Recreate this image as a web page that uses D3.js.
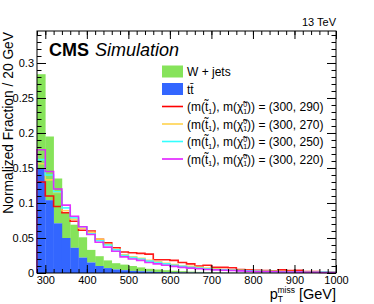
<!DOCTYPE html>
<html>
<head>
<meta charset="utf-8">
<script src="https://cdnjs.cloudflare.com/ajax/libs/d3/7.8.5/d3.min.js"></script>
<style>
  body { margin: 0; background: #fff; }
  svg { display: block; font-family: "Liberation Sans", Arial, Helvetica, sans-serif; }
  .axis path { display: none; }
  .axis line { stroke: #000; }
</style>
</head>
<body>
<svg id="chart" width="374" height="304"></svg>
<script>
// bin lower edges, 20 GeV wide
const binLow = d3.range(280, 1000, 20);

// stacked backgrounds (normalized)
const ttbar = [0.150, 0.104, 0.071, 0.050, 0.036, 0.022, 0.015, 0.010, 0.007, 0.005, 0.004, 0.003, 0.0025, 0.002, 0.0015, 0.0012, 0.001, 0.0008, 0.0006, 0.0005, 0.0004, 0.0003, 0.0003, 0.0002, 0.0002, 0.0002, 0.0001, 0.0001, 0.0001, 0.0001, 0.0001, 0.0001, 0, 0, 0, 0];
const wjets = [0.134, 0.091, 0.064, 0.036, 0.033, 0.029, 0.018, 0.014, 0.011, 0.009, 0.008, 0.007, 0.0055, 0.004, 0.0035, 0.0028, 0.0022, 0.0018, 0.0014, 0.0011, 0.0009, 0.0007, 0.0005, 0.0005, 0.0004, 0.0003, 0.0003, 0.0003, 0.0002, 0.0002, 0.0001, 0.0001, 0.0002, 0.0001, 0.0001, 0.0001];

// signal points
const sig290 = [0.130, 0.110, 0.095, 0.086, 0.074, 0.061, 0.060, 0.048, 0.043, 0.036, 0.030, 0.029, 0.028, 0.027, 0.019, 0.019, 0.018, 0.015, 0.013, 0.010, 0.011, 0.008, 0.008, 0.0075, 0.005, 0.0045, 0.004, 0.0035, 0.003, 0.0045, 0.0035, 0.004, 0.002, 0.002, 0.001, 0.001];
const sig270 = [0.156, 0.133, 0.115, 0.089, 0.077, 0.064, 0.058, 0.048, 0.041, 0.034, 0.026, 0.023, 0.021, 0.018, 0.016, 0.014, 0.012, 0.010, 0.0095, 0.008, 0.007, 0.006, 0.005, 0.0045, 0.004, 0.0035, 0.003, 0.0028, 0.0025, 0.002, 0.002, 0.0018, 0.0015, 0.0012, 0.001, 0.001];
const sig250 = [0.162, 0.140, 0.116, 0.093, 0.079, 0.066, 0.056, 0.046, 0.040, 0.033, 0.025, 0.022, 0.020, 0.017, 0.015, 0.013, 0.011, 0.0095, 0.008, 0.007, 0.006, 0.005, 0.0045, 0.004, 0.0035, 0.003, 0.0025, 0.0022, 0.002, 0.0018, 0.0015, 0.0012, 0.001, 0.001, 0.0015, 0.001];
const sig220 = [0.176, 0.145, 0.120, 0.097, 0.081, 0.066, 0.055, 0.044, 0.037, 0.031, 0.023, 0.020, 0.018, 0.015, 0.013, 0.011, 0.0095, 0.008, 0.007, 0.006, 0.005, 0.0045, 0.004, 0.0035, 0.003, 0.0025, 0.002, 0.002, 0.0018, 0.0015, 0.0015, 0.0012, 0.001, 0.001, 0.0008, 0.0008];

const signals = [
  { mass: "290", values: sig290, color: "#ff0000" },
  { mass: "270", values: sig270, color: "#ffd24d" },
  { mass: "250", values: sig250, color: "#33ffff" },
  { mass: "220", values: sig220, color: "#e21cff" },
];

const xTicks = [300, 400, 500, 600, 700, 800, 900, 1000];
const yTicks = [0, 0.05, 0.1, 0.15, 0.2, 0.25, 0.3];

const svg = d3.select("#chart");
const pLeft = 37, pRight = 336, pTop = 31, pBottom = 273;

const x = d3.scaleLinear().domain([280, 1000]).range([pLeft, pRight]);
const y = d3.scaleLinear().domain([0, 0.3457]).range([pBottom, pTop]);

const binW = 20;

// stacked histograms: ttbar at bottom, W+jets on top
const stack = binLow.map((lo, i) => ({ lo: lo, tt: ttbar[i], tot: ttbar[i] + wjets[i] }));

const hist = svg.append("g");
hist
  .selectAll("rect.wj")
  .data(stack)
  .enter()
  .append("rect")
  .attr("x", (d) => x(d.lo))
  .attr("width", (d) => x(d.lo + binW) - x(d.lo) + 0.3)
  .attr("y", (d) => y(d.tot))
  .attr("height", (d) => y(d.tt) - y(d.tot))
  .attr("fill", "#86e35a");
hist
  .selectAll("rect.tt")
  .data(stack)
  .enter()
  .append("rect")
  .attr("x", (d) => x(d.lo))
  .attr("width", (d) => x(d.lo + binW) - x(d.lo) + 0.3)
  .attr("y", (d) => y(d.tt))
  .attr("height", (d) => y(0) - y(d.tt))
  .attr("fill", "#3366ff");

// step outlines for the signals
function stepPath(values) {
  const pts = [[x(280), y(0)]];
  values.forEach((v, i) => {
    pts.push([x(binLow[i]), y(v)]);
    pts.push([x(binLow[i] + binW), y(v)]);
  });
  pts.push([x(1000), y(0)]);
  return d3.line()(pts);
}

svg
  .append("g")
  .selectAll("path")
  .data(signals)
  .enter()
  .append("path")
  .attr("d", (d) => stepPath(d.values))
  .attr("fill", "none")
  .attr("stroke", (d) => d.color)
  .attr("stroke-width", 1.6)
  .attr("stroke-opacity", 0.9);

// axes, ticks inside on all four sides
const minorX = d3.range(280, 1001, 20);
const minorY = d3.range(0, 0.341, 0.01);
const fmtY = (d) => (d === 0 ? "0" : String(+d.toFixed(2)));

svg.append("g").attr("class", "axis")
  .attr("transform", `translate(0,${pBottom})`)
  .call(d3.axisBottom(x).tickValues(minorX).tickSize(-4).tickFormat(""));
svg.append("g").attr("class", "axis")
  .attr("transform", `translate(0,${pBottom})`)
  .call(d3.axisBottom(x).tickValues(xTicks).tickSize(-8).tickPadding(3).tickFormat(d3.format("d")))
  .call((g) => g.selectAll("text").attr("font-size", 11).attr("fill", "#000"));
svg.append("g").attr("class", "axis")
  .attr("transform", `translate(0,${pTop})`)
  .call(d3.axisTop(x).tickValues(minorX).tickSize(-4).tickFormat(""));
svg.append("g").attr("class", "axis")
  .attr("transform", `translate(0,${pTop})`)
  .call(d3.axisTop(x).tickValues(xTicks).tickSize(-8).tickFormat(""));

svg.append("g").attr("class", "axis")
  .attr("transform", `translate(${pLeft},0)`)
  .call(d3.axisLeft(y).tickValues(minorY).tickSize(-4.5).tickFormat(""));
svg.append("g").attr("class", "axis")
  .attr("transform", `translate(${pLeft},0)`)
  .call(d3.axisLeft(y).tickValues(yTicks).tickSize(-9).tickPadding(3).tickFormat(fmtY))
  .call((g) => g.selectAll("text").attr("font-size", 11).attr("fill", "#000"));
svg.append("g").attr("class", "axis")
  .attr("transform", `translate(${pRight},0)`)
  .call(d3.axisRight(y).tickValues(minorY).tickSize(-4.5).tickFormat(""));
svg.append("g").attr("class", "axis")
  .attr("transform", `translate(${pRight},0)`)
  .call(d3.axisRight(y).tickValues(yTicks).tickSize(-9).tickFormat(""));

svg.append("rect")
  .attr("x", pLeft).attr("y", pTop)
  .attr("width", pRight - pLeft).attr("height", pBottom - pTop)
  .attr("fill", "none").attr("stroke", "#000").attr("stroke-width", 1);

// titles
svg.append("text")
  .attr("x", pRight).attr("y", 26)
  .attr("text-anchor", "end").attr("font-size", 11)
  .text("13 TeV");

const cms = svg.append("text").attr("x", 49).attr("y", 56).attr("font-size", 18);
cms.append("tspan").attr("font-weight", "bold").text("CMS");
cms.append("tspan").attr("font-style", "italic").attr("dx", 6).text("Simulation");

svg.append("text")
  .attr("transform", "translate(12.5,32) rotate(-90)")
  .attr("text-anchor", "end").attr("font-size", 13.8)
  .text("Normalized Fraction / 20 GeV");

const xt = svg.append("text")
  .attr("x", pRight).attr("y", 299)
  .attr("text-anchor", "end").attr("font-size", 14.5);
xt.append("tspan").text("p");
xt.append("tspan").attr("font-size", 8.5).attr("dy", 3).text("T");
xt.append("tspan").attr("font-size", 8.5).attr("dx", -5.5).attr("dy", -9.5).text("miss");
xt.append("tspan").attr("dy", 6.5).text(" [GeV]");

// legend
const legX = 162, legText = 187, rowH = 17.5, legY0 = 71.5;
const lg = svg.append("g");

lg.append("rect").attr("x", legX).attr("y", legY0 - 6).attr("width", 21).attr("height", 12).attr("fill", "#86e35a");
lg.append("text").attr("x", legText).attr("y", legY0 + 4.5).attr("font-size", 12).text("W + jets");
lg.append("rect").attr("x", legX).attr("y", legY0 + rowH - 6).attr("width", 21).attr("height", 12).attr("fill", "#3366ff");
lg.append("text").attr("x", legText).attr("y", legY0 + rowH + 4.5).attr("font-size", 12).text("tt\u0304");

signals.forEach((s, i) => {
  const yy = legY0 + (i + 2) * rowH;
  lg.append("line")
    .attr("x1", legX).attr("x2", legX + 21)
    .attr("y1", yy).attr("y2", yy)
    .attr("stroke", s.color).attr("stroke-width", 1.6);
  const t = lg.append("text").attr("x", legText).attr("y", yy + 4.5).attr("font-size", 12);
  t.append("tspan").text("(m(t\u0303");
  t.append("tspan").attr("font-size", 7).attr("dy", 2.5).text("1");
  t.append("tspan").attr("dy", -2.5).text("), m(\u03c7\u0303");
  t.append("tspan").attr("font-size", 7).attr("dy", -4.5).text("0");
  t.append("tspan").attr("font-size", 7).attr("dx", -3.9).attr("dy", 7).text("1");
  t.append("tspan").attr("dy", -2.5).text(")) = (300, " + s.mass + ")");
});
</script>
</body>
</html>
